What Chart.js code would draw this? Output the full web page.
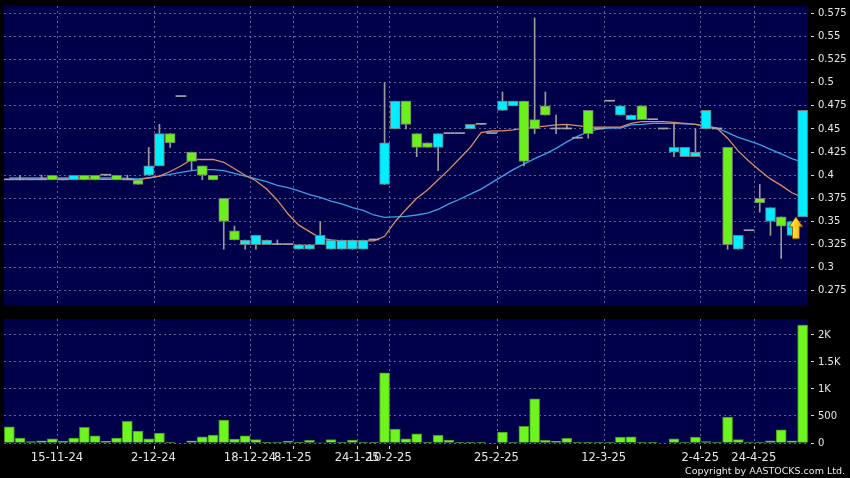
<!DOCTYPE html>
<html>
<head>
<meta charset="utf-8">
<script src="https://cdn.jsdelivr.net/npm/chart.js@4.4.1/dist/chart.umd.min.js"></script>
<style>
  html, body { margin: 0; padding: 0; background: #000; }
  #wrap { position: relative; width: 850px; height: 478px; overflow: hidden; }
  #priceChart { position: absolute; left: 0; top: 0; }
  #volChart { position: absolute; left: 0; top: 312px; }
  #copy { position: absolute; right: 5px; top: 465px; font: 9.5px 'DejaVu Sans'; color: #e8e8e8; }
</style>
</head>
<body>
<div id="wrap">
  <canvas id="priceChart" width="850" height="306"></canvas>
  <canvas id="volChart" width="850" height="166"></canvas>
  <div id="copy">Copyright by AASTOCKS.com Ltd.</div>
</div>
<script>
// daily candles (75 sessions)
const opens = [0.395, 0.395, 0.395, 0.395, 0.40, 0.395, 0.395, 0.40, 0.40, 0.40,
  0.40, 0.395, 0.395, 0.40, 0.41, 0.445, 0.485, 0.425, 0.41, 0.40,
  0.375, 0.34, 0.325, 0.325, 0.325, 0.325, 0.325, 0.32, 0.32, 0.325,
  0.32, 0.32, 0.32, 0.32, 0.33, 0.39, 0.45, 0.48, 0.445, 0.435,
  0.43, 0.445, 0.445, 0.45, 0.455, 0.445, 0.47, 0.475, 0.48, 0.46,
  0.475, 0.45, 0.45, 0.44, 0.47, 0.45, 0.48, 0.465, 0.46, 0.475,
  0.46, 0.45, 0.425, 0.42, 0.42, 0.45, 0.45, 0.43, 0.32, 0.34,
  0.375, 0.35, 0.355, 0.335, 0.355];
const closes = [0.395, 0.395, 0.395, 0.395, 0.395, 0.395, 0.40, 0.395, 0.395, 0.40,
  0.395, 0.395, 0.39, 0.41, 0.445, 0.435, 0.485, 0.415, 0.40, 0.395,
  0.35, 0.33, 0.33, 0.335, 0.33, 0.325, 0.325, 0.325, 0.325, 0.335,
  0.33, 0.33, 0.33, 0.33, 0.33, 0.435, 0.48, 0.455, 0.43, 0.43,
  0.445, 0.445, 0.445, 0.455, 0.455, 0.445, 0.48, 0.48, 0.415, 0.45,
  0.465, 0.45, 0.45, 0.44, 0.445, 0.45, 0.48, 0.475, 0.465, 0.46,
  0.46, 0.45, 0.43, 0.43, 0.425, 0.47, 0.45, 0.325, 0.335, 0.34,
  0.37, 0.365, 0.345, 0.35, 0.47];
const highs = [0.395, 0.40, 0.395, 0.40, 0.40, 0.395, 0.40, 0.40, 0.40, 0.40,
  0.40, 0.40, 0.395, 0.43, 0.455, 0.445, 0.485, 0.425, 0.41, 0.40,
  0.375, 0.345, 0.33, 0.335, 0.33, 0.33, 0.325, 0.325, 0.325, 0.35,
  0.33, 0.33, 0.33, 0.33, 0.33, 0.50, 0.48, 0.48, 0.445, 0.435,
  0.445, 0.445, 0.445, 0.455, 0.455, 0.445, 0.49, 0.48, 0.48, 0.57,
  0.49, 0.465, 0.455, 0.44, 0.47, 0.45, 0.48, 0.475, 0.465, 0.475,
  0.46, 0.45, 0.457, 0.43, 0.45, 0.47, 0.45, 0.43, 0.335, 0.34,
  0.39, 0.365, 0.355, 0.35, 0.47];
const lows = [0.395, 0.395, 0.395, 0.395, 0.395, 0.395, 0.395, 0.395, 0.395, 0.40,
  0.395, 0.395, 0.39, 0.40, 0.41, 0.43, 0.485, 0.405, 0.395, 0.395,
  0.32, 0.33, 0.32, 0.32, 0.325, 0.325, 0.325, 0.32, 0.32, 0.325,
  0.32, 0.32, 0.32, 0.32, 0.33, 0.39, 0.45, 0.45, 0.42, 0.43,
  0.405, 0.445, 0.445, 0.45, 0.455, 0.445, 0.47, 0.475, 0.41, 0.445,
  0.465, 0.445, 0.45, 0.44, 0.44, 0.45, 0.48, 0.465, 0.46, 0.46,
  0.46, 0.45, 0.42, 0.42, 0.42, 0.45, 0.45, 0.32, 0.32, 0.34,
  0.36, 0.335, 0.31, 0.335, 0.355];

// moving averages as drawn
const maShort = [null, null, null, 0.3955, 0.3955, 0.3955, 0.3955, 0.3955, 0.3955, 0.3955,
  0.3955, 0.3955, 0.395, 0.397, 0.399, 0.404, 0.41, 0.417, 0.417, 0.417,
  0.414, 0.407, 0.40, 0.394, 0.385, 0.373, 0.358, 0.346, 0.339, 0.332,
  0.330, 0.329, 0.329, 0.329, 0.329, 0.334, 0.350, 0.363, 0.375, 0.384,
  0.395, 0.406, 0.418, 0.430, 0.446, 0.4478, 0.448, 0.449, 0.451, 0.452,
  0.453, 0.4545, 0.455, 0.4535, 0.452, 0.452, 0.452, 0.452, 0.456, 0.458,
  0.458, 0.458, 0.457, 0.456, 0.455, 0.453, 0.451, 0.440, 0.426, 0.415,
  0.405, 0.396, 0.389, 0.381, 0.376];
const maLong = [0.397, 0.397, 0.397, 0.397, 0.397, 0.397, 0.397, 0.397, 0.397, 0.397,
  0.397, 0.3965, 0.396, 0.397, 0.399, 0.401, 0.403, 0.405, 0.406, 0.406,
  0.405, 0.402, 0.399, 0.396, 0.393, 0.389, 0.3865, 0.383, 0.379, 0.376,
  0.372, 0.369, 0.365, 0.362, 0.357, 0.3545, 0.355, 0.3555, 0.357, 0.359,
  0.363, 0.369, 0.374, 0.3795, 0.385, 0.392, 0.399, 0.406, 0.412, 0.418,
  0.423, 0.429, 0.436, 0.442, 0.447, 0.450, 0.451, 0.451, 0.4545, 0.455,
  0.456, 0.456, 0.456, 0.4555, 0.455, 0.453, 0.451, 0.446, 0.441, 0.437,
  0.433, 0.428, 0.423, 0.418, 0.414];

const volumes = [300, 92, 24, 42, 79, 30, 92, 288, 135, 30,
  92, 399, 221, 79, 184, 18, 0, 42, 116, 147,
  424, 74, 135, 61, 5, 18, 37, 5, 49, 10,
  61, 5, 55, 5, 5, 1298, 258, 79, 172, 5,
  140, 55, 5, 5, 5, 0, 203, 18, 307, 818,
  49, 30, 85, 2, 18, 18, 3, 110, 116, 18,
  3, 0, 79, 18, 110, 24, 18, 480, 61, 18,
  18, 42, 246, 42, 2184];

// axis ticks
const priceTicks = [0.275, 0.3, 0.325, 0.35, 0.375, 0.4, 0.425, 0.45, 0.475, 0.5, 0.525, 0.55, 0.575];
const volTicks = [0, 500, 1000, 1500, 2000];
const tickIdx = [5, 14, 23, 27, 33, 36, 46, 56, 65, 70];
const tickText = ['15-11-24', '2-12-24', '18-12-24', '8-1-25', '24-1-25', '10-2-25', '25-2-25', '12-3-25', '2-4-25', '24-4-25'];

// marker arrow (session index and price at its tip)
const arrowIdx = 73;
const arrowPrice = 0.355;

const categories = opens.map((_, i) => String(i));

const UP = 'rgb(0,238,255)';
const DOWN = 'rgb(108,240,28)';
const FLAT = 'rgb(165,165,165)';
const NAVY = '#00004a';
const GRID = 'rgba(110,110,165,0.9)';
const TXT = '#e8e8e8';

Chart.defaults.font.family = "'DejaVu Sans', sans-serif";
Chart.defaults.animation = false;

const panelBg = {
  id: 'panelBg',
  beforeDraw: (chart) => {
    const ctx = chart.ctx;
    const a = chart.chartArea;
    ctx.save();
    ctx.fillStyle = NAVY;
    ctx.fillRect(a.left, a.top, a.right - a.left, a.bottom - a.top);
    ctx.restore();
  }
};

const arrowMark = {
  id: 'arrowMark',
  afterDatasetsDraw: (chart) => {
    const ctx = chart.ctx;
    const cx = chart.scales.x.getPixelForValue(arrowIdx) + 4;
    const top = chart.scales.y.getPixelForValue(arrowPrice);
    ctx.save();
    const g = ctx.createLinearGradient(cx - 7, 0, cx + 7, 0);
    g.addColorStop(0, '#ffe95a');
    g.addColorStop(0.6, '#ffc91a');
    g.addColorStop(1, '#d88a00');
    ctx.beginPath();
    ctx.moveTo(cx, top);
    ctx.lineTo(cx + 7, top + 10);
    ctx.lineTo(cx + 3.5, top + 10);
    ctx.lineTo(cx + 3.5, top + 22);
    ctx.lineTo(cx - 3.5, top + 22);
    ctx.lineTo(cx - 3.5, top + 10);
    ctx.lineTo(cx - 7, top + 10);
    ctx.closePath();
    ctx.fillStyle = g;
    ctx.fill();
    ctx.strokeStyle = 'rgba(120,80,0,0.9)';
    ctx.lineWidth = 1;
    ctx.stroke();
    ctx.restore();
  }
};

const bodyColor = (i) => closes[i] > opens[i] ? UP : (closes[i] < opens[i] ? DOWN : FLAT);
const vGrid = (ctx) => tickIdx.includes(ctx.index) ? GRID : 'rgba(0,0,0,0)';

const priceChart = new Chart(document.getElementById('priceChart'), {
  type: 'bar',
  data: {
    labels: categories,
    datasets: [{
      label: 'body',
      data: opens.map((o, i) => [o, closes[i]]),
      backgroundColor: (c) => bodyColor(c.dataIndex),
      borderColor: 'rgb(120,120,120)',
      borderWidth: (c) => closes[c.dataIndex] === opens[c.dataIndex] ? 0 : 1,
      borderSkipped: false,
      barThickness: 10,
      minBarLength: 1,
      grouped: false,
      order: 0
    }, {
      label: 'wick',
      data: lows.map((l, i) => [l, highs[i]]),
      backgroundColor: 'rgb(155,155,155)',
      borderWidth: 0,
      barThickness: 1,
      grouped: false,
      order: 1
    }, {
      type: 'line',
      label: 'MA short',
      data: maShort,
      borderColor: 'rgb(222,140,100)',
      borderWidth: 1.3,
      pointRadius: 0,
      tension: 0,
      order: 2
    }, {
      type: 'line',
      label: 'MA long',
      data: maLong,
      borderColor: 'rgb(60,160,232)',
      borderWidth: 1.3,
      pointRadius: 0,
      tension: 0,
      order: 3
    }]
  },
  plugins: [panelBg, arrowMark],
  options: {
    responsive: false,
    devicePixelRatio: 1,
    layout: { padding: { left: 4, top: 6, right: 0, bottom: 1 }, autoPadding: false },
    plugins: { legend: { display: false }, tooltip: { enabled: false } },
    scales: {
      x: {
        type: 'category',
        offset: true,
        grid: { offset: true, color: vGrid, drawTicks: false },
        border: { display: false, dash: [2, 3] },
        ticks: { display: false, autoSkip: false },
        afterFit: (s) => { s.height = 0; }
      },
      y: {
        position: 'right',
        min: 0.2597,
        max: 0.5829,
        grid: { color: GRID, tickColor: '#d8d8d8', tickLength: 6, tickBorderDash: [0, 3, 3, 0] },
        border: { display: false, dash: [2, 3] },
        ticks: {
          color: TXT,
          padding: 4,
          font: { size: 10 },
          callback: (v) => String(+v.toFixed(3))
        },
        afterBuildTicks: (s) => { s.ticks = priceTicks.map((v) => ({ value: v })); },
        afterFit: (s) => { s.width = 42; s.paddingTop = 0; s.paddingBottom = 0; }
      }
    }
  }
});

const volChart = new Chart(document.getElementById('volChart'), {
  type: 'bar',
  data: {
    labels: categories,
    datasets: [{
      label: 'volume',
      data: volumes,
      backgroundColor: 'rgb(110,245,30)',
      borderColor: 'rgb(70,150,30)',
      borderWidth: 1,
      barThickness: 10
    }]
  },
  plugins: [panelBg],
  options: {
    responsive: false,
    devicePixelRatio: 1,
    layout: { padding: { left: 4, top: 7, right: 0, bottom: 13 }, autoPadding: false },
    plugins: { legend: { display: false }, tooltip: { enabled: false } },
    scales: {
      x: {
        type: 'category',
        offset: true,
        grid: {
          offset: true,
          color: vGrid,
          tickColor: (c) => tickIdx.includes(c.index) ? '#d8d8d8' : 'rgba(0,0,0,0)',
          tickLength: 6,
          tickBorderDash: [0, 3, 3, 0]
        },
        border: { display: false, dash: [2, 3] },
        ticks: {
          autoSkip: false,
          maxRotation: 0,
          minRotation: 0,
          color: TXT,
          padding: 2,
          labelOffset: -6,
          font: { size: 11.5 },
          callback: (v, i) => {
            const k = tickIdx.indexOf(i);
            return k >= 0 ? tickText[k] : '';
          }
        },
        afterFit: (s) => { s.height = 22; s.paddingLeft = 0; s.paddingRight = 0; }
      },
      y: {
        position: 'right',
        min: 0,
        max: 2295,
        grid: { color: GRID, tickColor: '#d8d8d8', tickLength: 6, tickBorderDash: [0, 3, 3, 0] },
        border: { display: false, dash: [2, 3] },
        ticks: {
          color: TXT,
          padding: 4,
          font: { size: 10 },
          callback: (v) => v >= 1000 ? (v / 1000) + 'K' : String(v)
        },
        afterBuildTicks: (s) => { s.ticks = volTicks.map((v) => ({ value: v })); },
        afterFit: (s) => { s.width = 42; s.paddingTop = 0; s.paddingBottom = 0; }
      }
    }
  }
});
</script>
</body>
</html>
